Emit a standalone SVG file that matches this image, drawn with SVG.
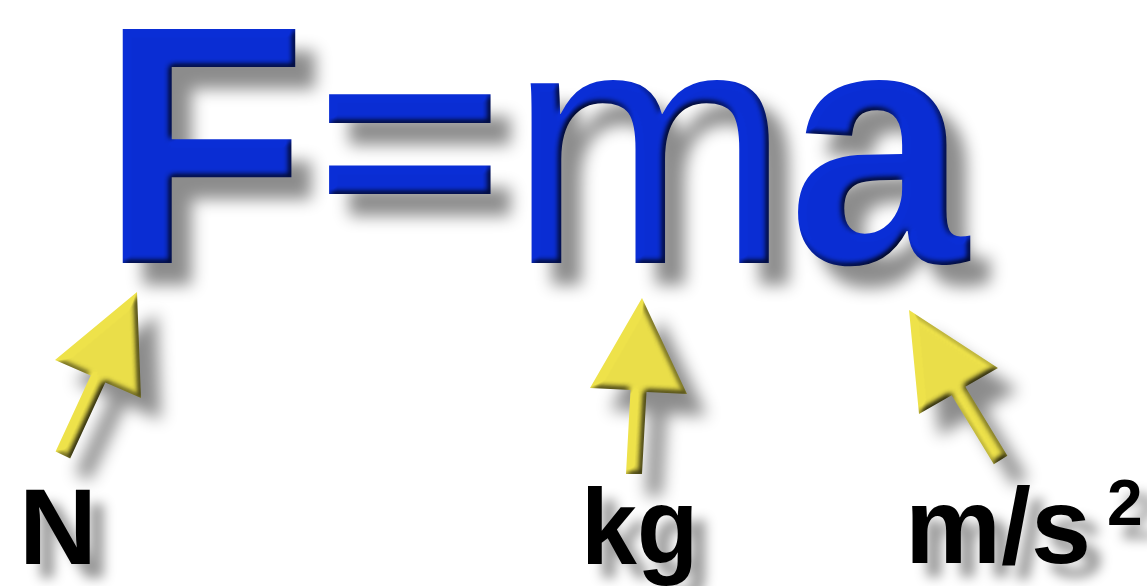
<svg xmlns="http://www.w3.org/2000/svg" width="1147" height="586" viewBox="0 0 1147 586">
<defs>
<style>
.big{font-family:"Liberation Sans",Arial,sans-serif;font-size:340px;fill:#0a2ed6}
.b{font-weight:bold}
.lbl{font-family:"Liberation Sans",Arial,sans-serif;font-weight:bold;font-size:108px;fill:#000}
.arrow{fill:#eee24a}
</style>
<filter id="bevel" x="-20%" y="-20%" width="150%" height="150%" color-interpolation-filters="sRGB">
<feGaussianBlur in="SourceAlpha" stdDeviation="3" result="ab"/>
<feDiffuseLighting in="ab" surfaceScale="4" diffuseConstant="1.2" lighting-color="#fff" result="dl"><feDistantLight azimuth="225" elevation="55"/></feDiffuseLighting>
<feComposite in="SourceGraphic" in2="dl" operator="arithmetic" k1="1" k2="0" k3="0" k4="0" result="lit"/>
<feGaussianBlur in="SourceAlpha" stdDeviation="8" result="sb"/>
<feOffset in="sb" dx="20" dy="22" result="so"/>
<feFlood flood-color="#000" flood-opacity="0.45"/>
<feComposite in2="so" operator="in" result="sh"/>
<feMerge><feMergeNode in="sh"/><feMergeNode in="lit"/></feMerge>
</filter>
<filter id="shadow" x="-20%" y="-20%" width="150%" height="150%">
<feGaussianBlur in="SourceAlpha" stdDeviation="6" result="sb"/>
<feOffset in="sb" dx="14" dy="14" result="so"/>
<feFlood flood-color="#000" flood-opacity="0.4"/>
<feComposite in2="so" operator="in" result="sh"/>
<feMerge><feMergeNode in="sh"/><feMergeNode in="SourceGraphic"/></feMerge>
</filter>
</defs>
<rect width="1147" height="586" fill="#fff"/>
<g id="formula" filter="url(#bevel)">
<g id="node-F"><text class="big b" x="100" y="263">F</text></g>
<g id="node-eq"><text class="big b" x="316" y="263" transform="matrix(0.947,0,0,0.776,16.5,27.4)">=</text></g>
<g id="node-m"><text class="big" x="508" y="263">m</text></g>
<g id="node-a"><text class="big b" x="788" y="263" transform="matrix(0.95,0,0,1,40,0)">a</text></g>
</g>
<g id="connectors" filter="url(#bevel)">
<polygon class="arrow" points="137,292 141,398 105.3,382.4 70.2,458.4 55.6,451.6 90.7,375.6 55,360"/>
<polygon class="arrow" points="642,298 687,394 646.5,392 642,474 626,474 630.5,390 590,388"/>
<polygon class="arrow" points="909,310 998,368 965.3,386.8 1007.4,455.8 993.8,464.2 951.7,395.2 919,414"/>
</g>
<g id="labels" filter="url(#shadow)">
<g id="node-N"><text class="lbl" x="19" y="564">N</text></g>
<g id="node-kg"><text class="lbl" x="581" y="564" transform="matrix(0.93,0,0,1,40.7,0)">kg</text></g>
<g id="node-ms2"><text class="lbl" x="905" y="563">m/s<tspan font-size="64" dy="-38" dx="16">2</tspan></text></g>
</g>
</svg>
